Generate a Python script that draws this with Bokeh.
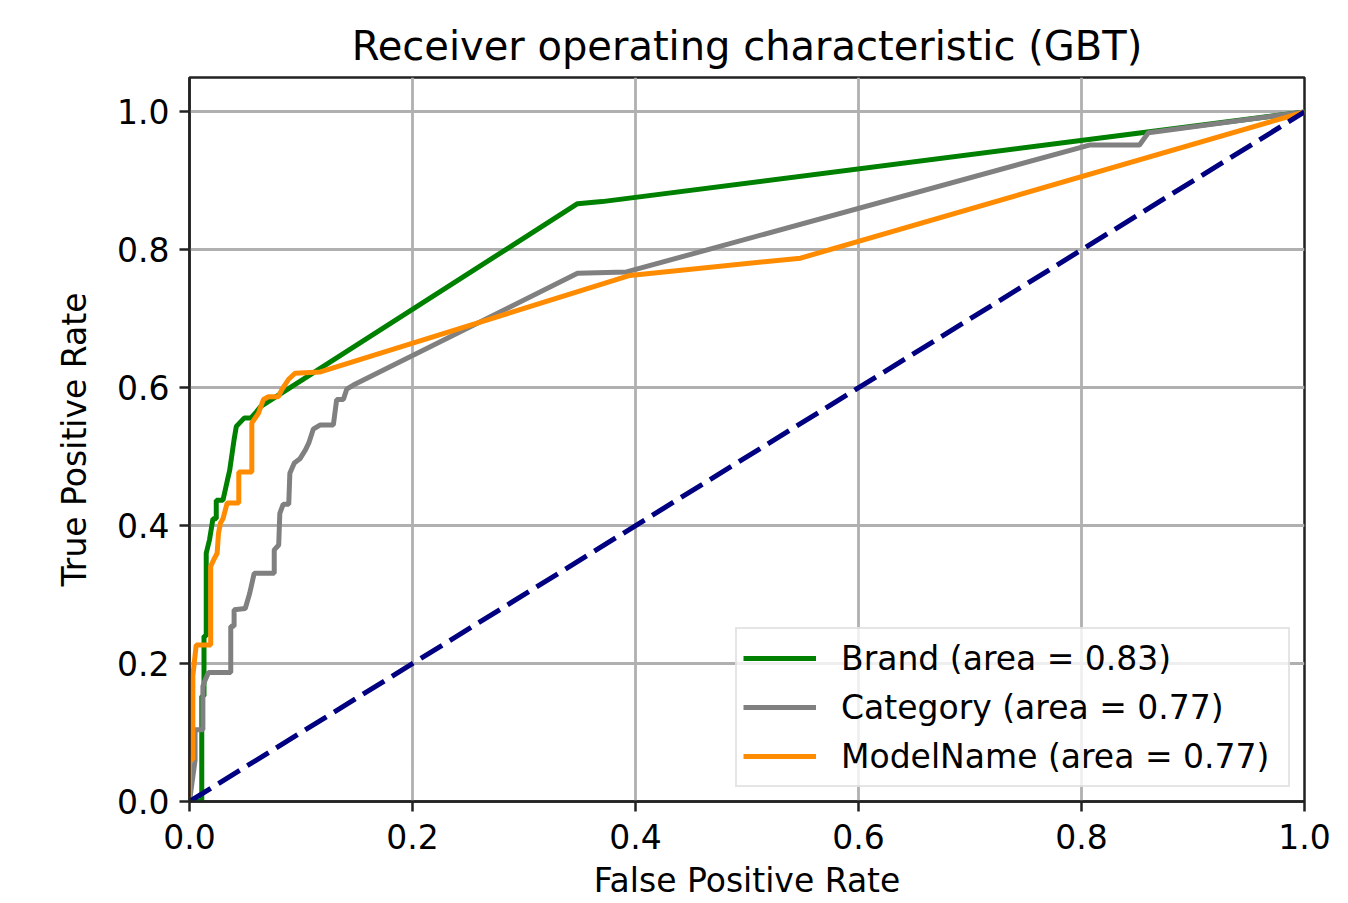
from bokeh.plotting import figure
from bokeh.models import FixedTicker, Range1d
from bokeh.embed import file_html
from bokeh.resources import INLINE

# ---------------- data ----------------
brand_fpr = [0.0, 0.011, 0.011, 0.013, 0.013, 0.015, 0.015, 0.018, 0.021, 0.024, 0.024, 0.030,
             0.034, 0.036, 0.040, 0.042, 0.049, 0.055, 0.060, 0.064, 0.348, 0.370, 1.0]
brand_tpr = [0.0, 0.0, 0.153, 0.153, 0.240, 0.240, 0.360, 0.380, 0.410, 0.410, 0.437, 0.437,
             0.466, 0.480, 0.525, 0.544, 0.556, 0.556, 0.565, 0.573, 0.867, 0.870, 1.0]

category_fpr = [0.0, 0.005, 0.005, 0.012, 0.012, 0.014, 0.017, 0.037, 0.037, 0.040, 0.040, 0.050,
                0.054, 0.058, 0.076, 0.076, 0.080, 0.081, 0.084, 0.089, 0.090, 0.094, 0.099,
                0.104, 0.107, 0.111, 0.117, 0.129, 0.132, 0.138, 0.141, 0.147, 0.348, 0.392,
                0.807, 0.852, 0.860, 1.0]
category_tpr = [0.0, 0.060, 0.104, 0.104, 0.167, 0.176, 0.187, 0.187, 0.254, 0.254, 0.278, 0.280,
                0.302, 0.331, 0.331, 0.365, 0.372, 0.418, 0.431, 0.431, 0.476, 0.491, 0.497,
                0.510, 0.520, 0.540, 0.546, 0.546, 0.583, 0.583, 0.598, 0.604, 0.766, 0.768,
                0.952, 0.952, 0.970, 1.0]

model_fpr = [0.0, 0.0, 0.003, 0.003, 0.006, 0.0175, 0.019, 0.019, 0.0218, 0.0248, 0.026, 0.0278,
             0.030, 0.0338, 0.0442, 0.0442, 0.0559, 0.0559, 0.0618, 0.0663, 0.0708, 0.0797,
             0.0827, 0.0887, 0.0946, 0.1174, 0.395, 0.548, 1.0]
model_tpr = [0.0, 0.061, 0.061, 0.182, 0.227, 0.227, 0.227, 0.341, 0.351, 0.360, 0.389, 0.404,
             0.410, 0.433, 0.433, 0.478, 0.478, 0.549, 0.563, 0.583, 0.587, 0.587,
             0.597, 0.612, 0.621, 0.623, 0.763, 0.788, 1.0]

chance_x = [0.0, 1.0]
chance_y = [0.0, 1.0]

series_labels = ["Brand (area = 0.83)", "Category (area = 0.77)", "ModelName (area = 0.77)"]
tick_values = [0.0, 0.2, 0.4, 0.6, 0.8, 1.0]
tick_labels = ["0.0", "0.2", "0.4", "0.6", "0.8", "1.0"]

FONT = "DejaVu Sans"

p = figure(width=1340, height=902, output_backend="svg", toolbar_location=None,
           x_range=Range1d(0.0, 1.0), y_range=Range1d(0.0, 1.05),
           title="Receiver operating characteristic (GBT)",
           min_border_left=189, min_border_right=36, min_border_top=77, min_border_bottom=100)

p.line(brand_fpr, brand_tpr, line_color="#008000", line_width=5, legend_label=series_labels[0])
p.line(category_fpr, category_tpr, line_color="#808080", line_width=5, legend_label=series_labels[1])
p.line(model_fpr, model_tpr, line_color="#ff8c00", line_width=5, legend_label=series_labels[2])
p.line(chance_x, chance_y, line_color="#000080", line_width=5, line_dash="25 9")

# title
p.title.text_font = FONT
p.title.text_font_size = "40px"
p.title.text_font_style = "normal"
p.title.text_color = "black"
p.title.align = "center"
p.title.standoff = 17

# axes
overrides = {v: l for v, l in zip(tick_values, tick_labels)}
for ax in (p.xaxis[0], p.yaxis[0]):
    ax.ticker = FixedTicker(ticks=tick_values)
    ax.major_label_overrides = overrides
    ax.minor_tick_line_color = None
    ax.major_tick_out = 10
    ax.major_tick_in = 0
    ax.major_tick_line_width = 2.5
    ax.major_tick_line_color = "#222222"
    ax.axis_line_width = 2.5
    ax.axis_line_color = "#222222"
    ax.major_label_text_font = FONT
    ax.major_label_text_font_size = "33px"
    ax.major_label_text_color = "black"
    ax.axis_label_text_font = FONT
    ax.axis_label_text_font_size = "33px"
    ax.axis_label_text_font_style = "normal"
    ax.axis_label_text_color = "black"

p.xaxis.major_label_standoff = 12
p.yaxis.major_label_standoff = 10
p.xaxis.axis_label = "False Positive Rate"
p.yaxis.axis_label = "True Positive Rate"
p.xaxis.axis_label_standoff = 9
p.yaxis.axis_label_standoff = 20

p.outline_line_color = "#222222"
p.outline_line_width = 2.5
p.outline_line_alpha = 1.0

# grid
for g in (p.xgrid[0], p.ygrid[0]):
    g.ticker = FixedTicker(ticks=tick_values)
    g.grid_line_color = "#b0b0b0"
    g.grid_line_width = 2.8

# legend
lg = p.legend[0]
lg.location = "bottom_right"
lg.margin = 14
lg.padding = 6
lg.spacing = 3
lg.glyph_width = 73
lg.glyph_height = 46
lg.label_height = 46
lg.label_width = 441
lg.label_standoff = 25
lg.label_text_font = FONT
lg.label_text_font_size = "33px"
lg.label_text_color = "black"
lg.border_line_color = "#cccccc"
lg.border_line_width = 2.5
lg.background_fill_color = "white"
lg.background_fill_alpha = 0.8

open("out.html", "w").write(file_html(p, INLINE))
